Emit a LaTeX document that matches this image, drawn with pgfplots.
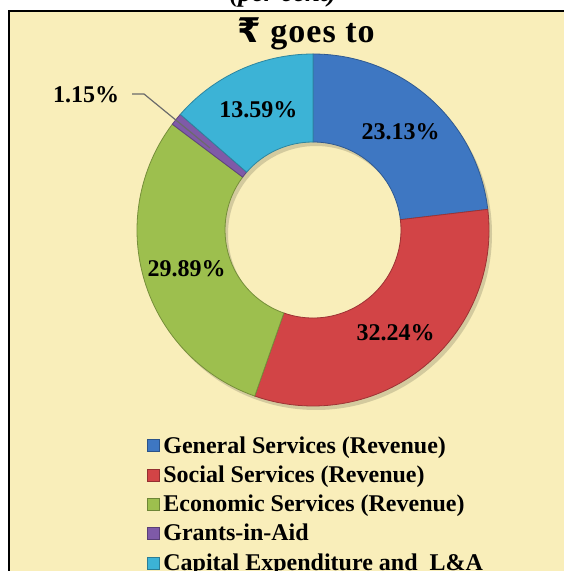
\documentclass[border=0pt]{standalone}
\usepackage{pgfplots}
\pgfplotsset{compat=1.18}
\usepackage{pgfplotstable}
\usepackage{fontspec}
\setmainfont{Liberation Serif}
\newfontfamily\rupee{DejaVu Sans}
\newfontfamily\titlefont[LetterSpace=3]{Liberation Serif}

\definecolor{bg}{HTML}{F9EEBA}
\definecolor{cGen}{HTML}{3E77C2}
\definecolor{cSoc}{HTML}{D24446}
\definecolor{cEco}{HTML}{9DBF4E}
\definecolor{cGra}{HTML}{7F5AA8}
\definecolor{cCap}{HTML}{3CB3D6}
\definecolor{leader}{HTML}{6B6B6B}

\pgfplotstableread{
idx value
0 23.13
1 32.24
2 29.89
3 1.15
4 13.59
}\shares

\newcommand\getv[2]{\pgfplotstablegetelem{#1}{value}\of\shares\global\let#2\pgfplotsretval}
\getv{0}\vA \getv{1}\vB \getv{2}\vC \getv{3}\vD \getv{4}\vE

\pgfmathsetmacro\aA{90}
\pgfmathsetmacro\aB{\aA-3.6*\vA}
\pgfmathsetmacro\aC{\aB-3.6*\vB}
\pgfmathsetmacro\aD{\aC-3.6*\vC}
\pgfmathsetmacro\aE{\aD-3.6*\vD}
\pgfmathsetmacro\aF{\aE-3.6*\vE}

\def\cx{313}\def\cy{-230}\def\Ro{176}\def\Ri{88}\def\Rl{132}

\newcommand\slice[3]{%
 \fill[#3, draw=#3!75!black, line width=0.8pt]
   (axis cs:{\cx+\Ro*cos(#1)},{\cy+\Ro*sin(#1)})
   arc[start angle=#1, end angle=#2, radius=\Ro pt]
   -- (axis cs:{\cx+\Ri*cos(#2)},{\cy+\Ri*sin(#2)})
   arc[start angle=#2, end angle=#1, radius=\Ri pt] -- cycle;}
\newcommand\slabel[3]{%
 \node[font=\fontsize{24}{28}\selectfont\bfseries, inner sep=0pt]
   at (axis cs:{\cx+\Rl*cos((#1+#2)/2)},{\cy+\Rl*sin((#1+#2)/2)}) {#3\%};}

\begin{document}
\begin{tikzpicture}
\begin{axis}[name=ax, scale only axis, width=564pt, height=571pt,
  xmin=0, xmax=564, ymin=-571, ymax=0, hide axis,
  legend image code/.code={\fill[#1] (0pt,-4pt) rectangle (12pt,8pt);},
  legend cell align=left,
  legend style={at={(0.2606,0.2364)}, anchor=north west, draw=none, fill=none,
    inner sep=0pt, outer sep=0pt, row sep=6.3pt, column sep=4pt,
    font=\fontsize{24}{28}\selectfont\bfseries,
    nodes={inner sep=0pt, text height=17pt, text depth=6pt}}]
\fill[bg] (axis cs:9,-11) rectangle (axis cs:590,-600);
\draw[black, line width=1.8pt] (axis cs:9,-11) rectangle (axis cs:590,-600);
\node[anchor=base, font=\fontsize{27}{30}\selectfont\bfseries\itshape] at (axis cs:283,-2) {(per cent)};
\node[anchor=base, font=\titlefont\bfseries\fontsize{34}{40}\selectfont] at (axis cs:306,-43) {{\rupee ₹} goes to};
% shadow
\fill[black, opacity=0.15, even odd rule] (axis cs:{\cx+3},{\cy-4}) circle[radius=\Ro pt] (axis cs:{\cx+3},{\cy-4}) circle[radius=\Ri pt];
\slice{\aA}{\aB}{cGen}
\slice{\aB}{\aC}{cSoc}
\slice{\aC}{\aD}{cEco}
\slice{\aD}{\aE}{cGra}
\slice{\aE}{\aF}{cCap}
\slabel{\aA}{\aB}{\vA}
\slabel{\aB}{\aC}{\vB}
\slabel{\aC}{\aD}{\vC}
\slabel{\aE}{\aF}{\vE}
\draw[leader, line width=1.2pt] (axis cs:132,-94) -- (axis cs:144,-94) -- (axis cs:210,-148);
\node[anchor=base, inner sep=0pt, font=\fontsize{24}{28}\selectfont\bfseries] at (axis cs:86,-103) {\vD\%};
\addlegendimage{fill=cGen, draw=cGen!70!black}
\addlegendentry{General Services (Revenue)}
\addlegendimage{fill=cSoc, draw=cSoc!70!black}
\addlegendentry{Social Services (Revenue)}
\addlegendimage{fill=cEco, draw=cEco!70!black}
\addlegendentry{Economic Services (Revenue)}
\addlegendimage{fill=cGra, draw=cGra!70!black}
\addlegendentry{Grants-in-Aid}
\addlegendimage{fill=cCap, draw=cCap!70!black}
\addlegendentry{Capital Expenditure and\ \ L\&A}
\end{axis}
\pgfresetboundingbox
\useasboundingbox (ax.south west) rectangle (ax.north east);
\end{tikzpicture}
\end{document}
